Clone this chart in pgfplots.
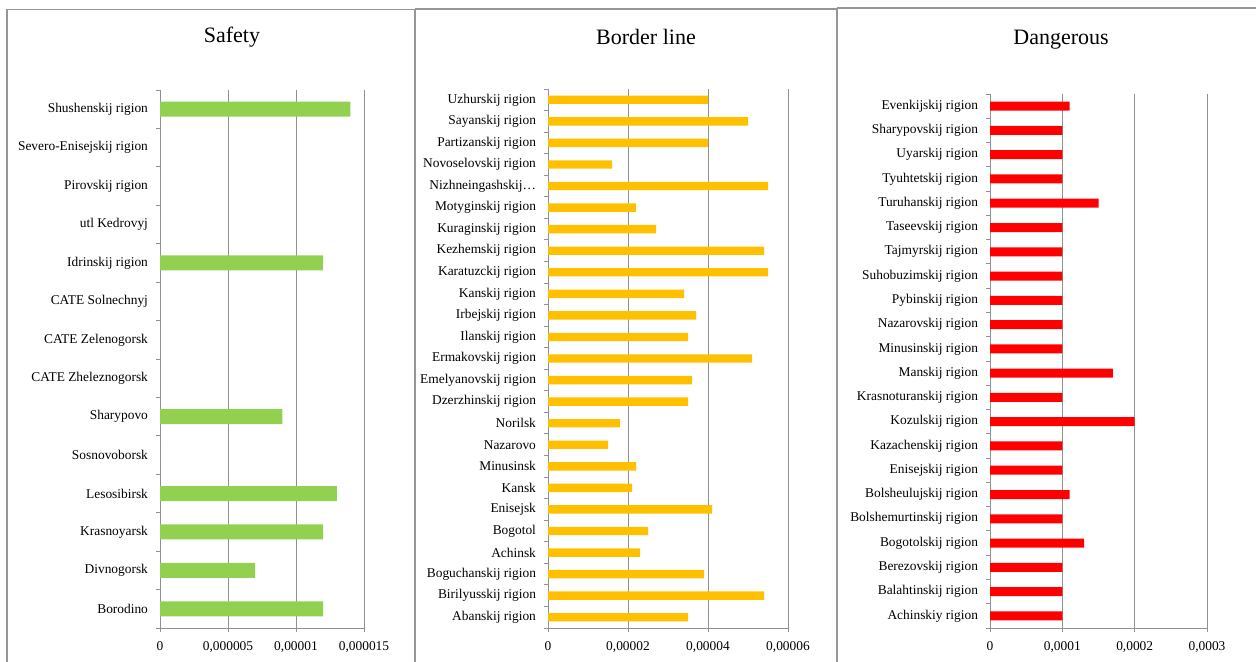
\documentclass[border=0pt]{standalone}
\usepackage{fontspec}
\setmainfont{Liberation Serif}
\usepackage{pgfplots}
\pgfplotsset{compat=1.18}
\definecolor{gridgray}{RGB}{145,145,145}
\definecolor{boxgray}{RGB}{150,150,150}
\definecolor{safegreen}{RGB}{146,208,80}
\definecolor{borderorange}{RGB}{255,192,0}
\definecolor{dangerred}{RGB}{255,0,0}
\pgfplotsset{
  panel/.style={
    scale only axis,
    anchor=south west,
    xbar,
    axis lines*=left,
    axis line style={draw=gridgray, line width=0.5pt},
    xmajorgrids,
    grid style={draw=gridgray, line width=0.5pt},
    major tick length=0pt,
    minor tick length=2pt,
    tick align=outside,
    minor tick style={draw=gridgray, line width=0.5pt},
    scaled x ticks=false,
    xmin=0,
    ytick={0,1,...,30},
    ticklabel style={font=\fontsize{6.7}{7}\selectfont},
    yticklabel style={xshift=-2.5pt},
    xticklabel style={yshift=-3pt},
    clip=false,
  }
}
\begin{document}
\begin{tikzpicture}
\useasboundingbox (0,0) rectangle (628pt,-330.5pt);
% panel frames
\draw[boxgray, line width=0.6pt] (3.5pt,-340pt) -- (3.5pt,-4.6pt) -- (207.5pt,-4.6pt) -- (207.5pt,-340pt);
\draw[boxgray, line width=0.6pt] (207.5pt,-4.5pt) -- (418.5pt,-4.5pt) -- (418.5pt,-340pt);
\draw[boxgray, line width=0.6pt] (418.5pt,-4pt) -- (640pt,-4pt);
% titles
\node[font=\fontsize{11}{12}\selectfont] at (116pt,-18.5pt) {Safety};
\node[font=\fontsize{11}{12}\selectfont] at (323pt,-18.5pt) {Border line};
\node[font=\fontsize{11}{12}\selectfont] at (530.5pt,-20pt) {Dangerous};

% Safety
\begin{axis}[panel,
  at={(80pt,-314pt)}, width=102pt, height=269pt,
  xmax=0.000015, ymin=-0.5, ymax=13.5,
  bar width=7.5pt,
  xtick={0,0.000005,0.00001,0.000015},
  xticklabels={0,{0,000005},{0,00001},{0,000015}},
  minor xtick={0,0.000005,0.00001,0.000015},
  minor ytick={-0.5,0.5,...,13.5},
  yticklabels={Borodino,Divnogorsk,Krasnoyarsk,Lesosibirsk,Sosnovoborsk,Sharypovo,CATE Zheleznogorsk,CATE Zelenogorsk,CATE Solnechnyj,Idrinskij rigion,utl Kedrovyj,Pirovskij rigion,Severo-Enisejskij rigion,Shushenskij rigion},
]
\addplot[fill=safegreen, draw=none] coordinates {
(0.000012,0) (0.000007,1) (0.000012,2) (0.000013,3) (0,4) (0.000009,5) (0,6)
(0,7) (0,8) (0.000012,9) (0,10) (0,11) (0,12) (0.000014,13)};
\end{axis}

% Border line
\begin{axis}[panel,
  at={(274pt,-314pt)}, width=120pt, height=269.5pt,
  xmax=0.00006, ymin=-0.5, ymax=24.5,
  bar width=4.2pt,
  xtick={0,0.00002,0.00004,0.00006},
  xticklabels={0,{0,00002},{0,00004},{0,00006}},
  minor xtick={0,0.00002,0.00004,0.00006},
  minor ytick={-0.5,0.5,...,24.5},
  yticklabels={Abanskij rigion,Birilyusskij rigion,Boguchanskij rigion,Achinsk,Bogotol,Enisejsk,Kansk,Minusinsk,Nazarovo,Norilsk,Dzerzhinskij rigion,Emelyanovskij rigion,Ermakovskij rigion,Ilanskij rigion,Irbejskij rigion,Kanskij rigion,Karatuzckij rigion,Kezhemskij rigion,Kuraginskij rigion,Motyginskij rigion,Nizhneingashskij\ldots,Novoselovskij rigion,Partizanskij rigion,Sayanskij rigion,Uzhurskij rigion},
]
\addplot[fill=borderorange, draw=none] coordinates {
(0.000035,0) (0.000054,1) (0.000039,2) (0.000023,3) (0.000025,4) (0.000041,5)
(0.000021,6) (0.000022,7) (0.000015,8) (0.000018,9) (0.000035,10) (0.000036,11)
(0.000051,12) (0.000035,13) (0.000037,14) (0.000034,15) (0.000055,16) (0.000054,17)
(0.000027,18) (0.000022,19) (0.000055,20) (0.000016,21) (0.00004,22) (0.00005,23)
(0.00004,24)};
\end{axis}

% Dangerous
\begin{axis}[panel,
  at={(495pt,-314pt)}, width=108.5pt, height=267pt,
  xmax=0.0003, ymin=-0.5, ymax=21.5,
  bar width=4.5pt,
  xtick={0,0.0001,0.0002,0.0003},
  xticklabels={0,{0,0001},{0,0002},{0,0003}},
  minor xtick={0,0.0001,0.0002,0.0003},
  minor ytick={-0.5,0.5,...,21.5},
  yticklabels={Achinskiy rigion,Balahtinskij rigion,Berezovskij rigion,Bogotolskij rigion,Bolshemurtinskij rigion,Bolsheulujskij rigion,Enisejskij rigion,Kazachenskij rigion,Kozulskij rigion,Krasnoturanskij rigion,Manskij rigion,Minusinskij rigion,Nazarovskij rigion,Pybinskij rigion,Suhobuzimskij rigion,Tajmyrskij  rigion,Taseevskij rigion,Turuhanskij rigion,Tyuhtetskij rigion,Uyarskij rigion,Sharypovskij rigion,Evenkijskij rigion},
]
\addplot[fill=dangerred, draw=none] coordinates {
(0.0001,0) (0.0001,1) (0.0001,2) (0.00013,3) (0.0001,4) (0.00011,5) (0.0001,6)
(0.0001,7) (0.0002,8) (0.0001,9) (0.00017,10) (0.0001,11) (0.0001,12) (0.0001,13)
(0.0001,14) (0.0001,15) (0.0001,16) (0.00015,17) (0.0001,18) (0.0001,19)
(0.0001,20) (0.00011,21)};
\end{axis}
\end{tikzpicture}
\end{document}
